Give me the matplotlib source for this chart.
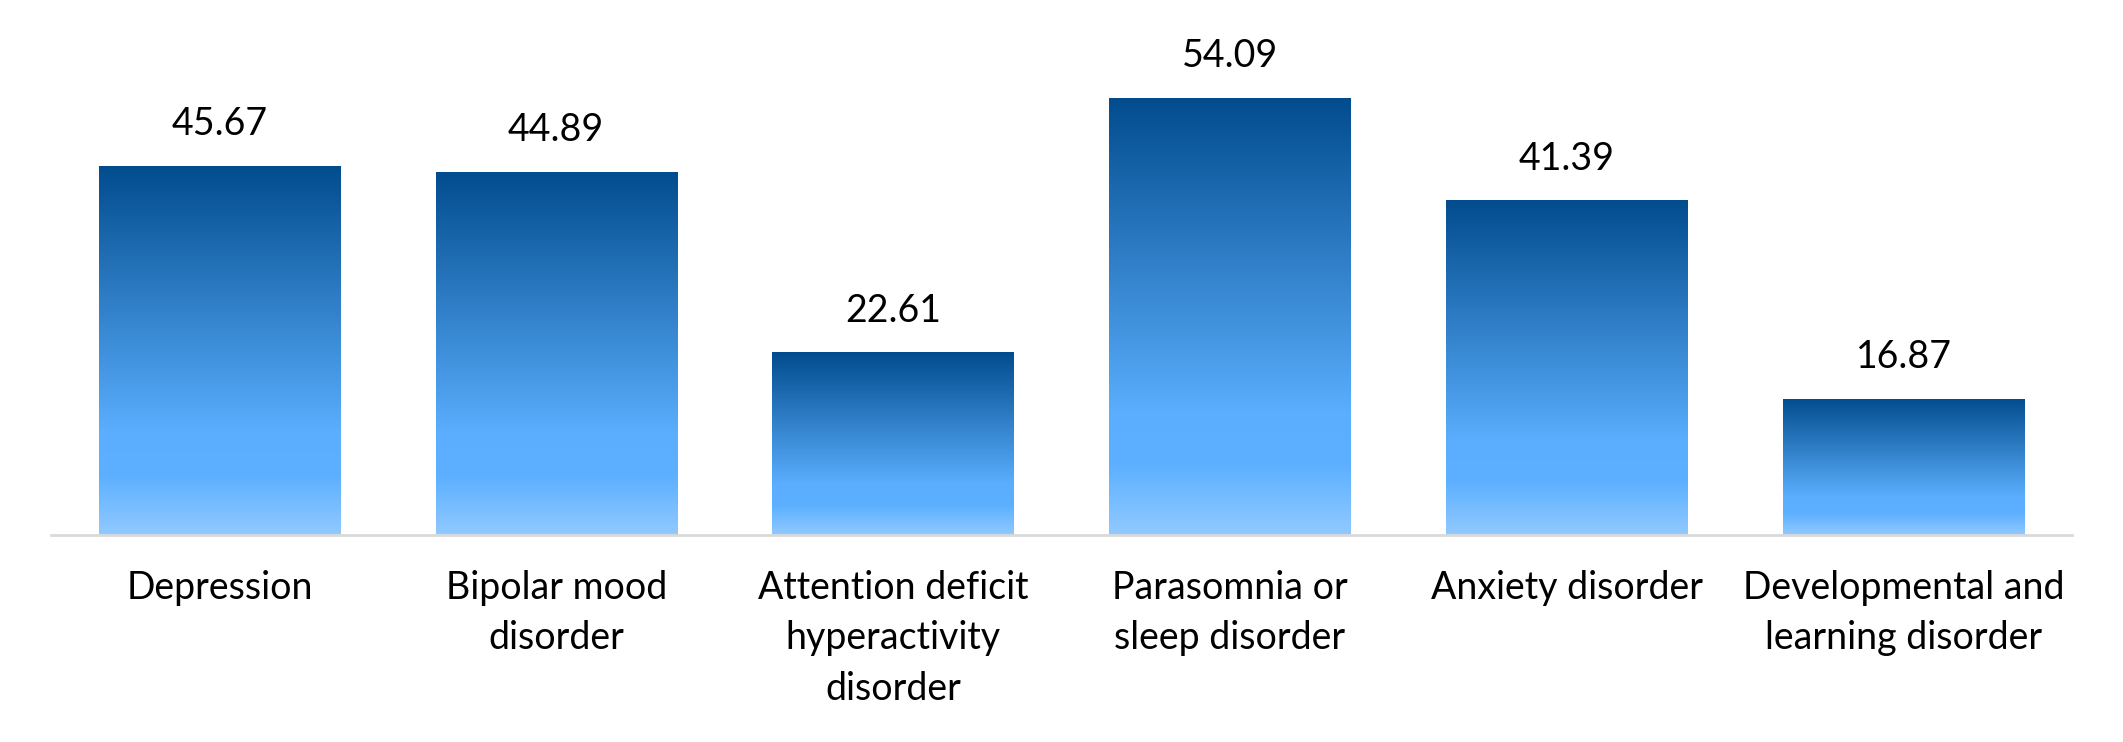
import numpy as np
import matplotlib
matplotlib.use('Agg')
import matplotlib.pyplot as plt
from matplotlib.colors import LinearSegmentedColormap

# Data
categories = ['Depression', 'Bipolar mood\ndisorder', 'Attention deficit\nhyperactivity\ndisorder',
              'Parasomnia or\nsleep disorder', 'Anxiety disorder', 'Developmental and\nlearning disorder']
values = [45.67, 44.89, 22.61, 54.09, 41.39, 16.87]

plt.rcParams['font.family'] = ['Lato', 'DejaVu Sans']

# Gradient from bottom (0) to top (1)
grad = LinearSegmentedColormap.from_list('bar_grad', [
    (0.0, '#91C9FF'),
    (0.16, '#5CB0FF'),
    (0.28, '#5AAEFD'),
    (1.0, '#024C8E'),
])

fig = plt.figure(figsize=(21.23, 7.42), dpi=100)
ax = fig.add_axes([0.024, 0.279, 0.952, 0.654])

x = np.arange(len(values))
bars = ax.bar(x, values, width=0.716, color='none', edgecolor='none', zorder=2)

gimg = np.linspace(0, 1, 256).reshape(-1, 1)
for b in bars:
    x0, w, h = b.get_x(), b.get_width(), b.get_height()
    im = ax.imshow(gimg, cmap=grad, origin='lower', aspect='auto',
                   extent=(x0, x0 + w, 0, h), zorder=2)
    im.set_clip_path(b)

# value labels
for xi, v in zip(x, values):
    ax.annotate(f'{v:.2f}', (xi, v), xytext=(0, 22), textcoords='offset points',
                ha='center', va='baseline', fontsize=27, color='#000000')

ax.set_xlim(-0.5, len(values) - 0.5)
ax.set_ylim(0, 60)
ax.set_xticks(x)
ax.set_xticklabels(categories, fontsize=27, color='#000000', linespacing=1.5)
ax.tick_params(axis='x', length=0, pad=25)
ax.set_yticks([])

for s in ['top', 'right', 'left']:
    ax.spines[s].set_visible(False)
ax.spines['bottom'].set_color('#D9D9D9')
ax.spines['bottom'].set_linewidth(2)
ax.spines['bottom'].set_zorder(3)

fig.savefig('out.png', dpi=100)
